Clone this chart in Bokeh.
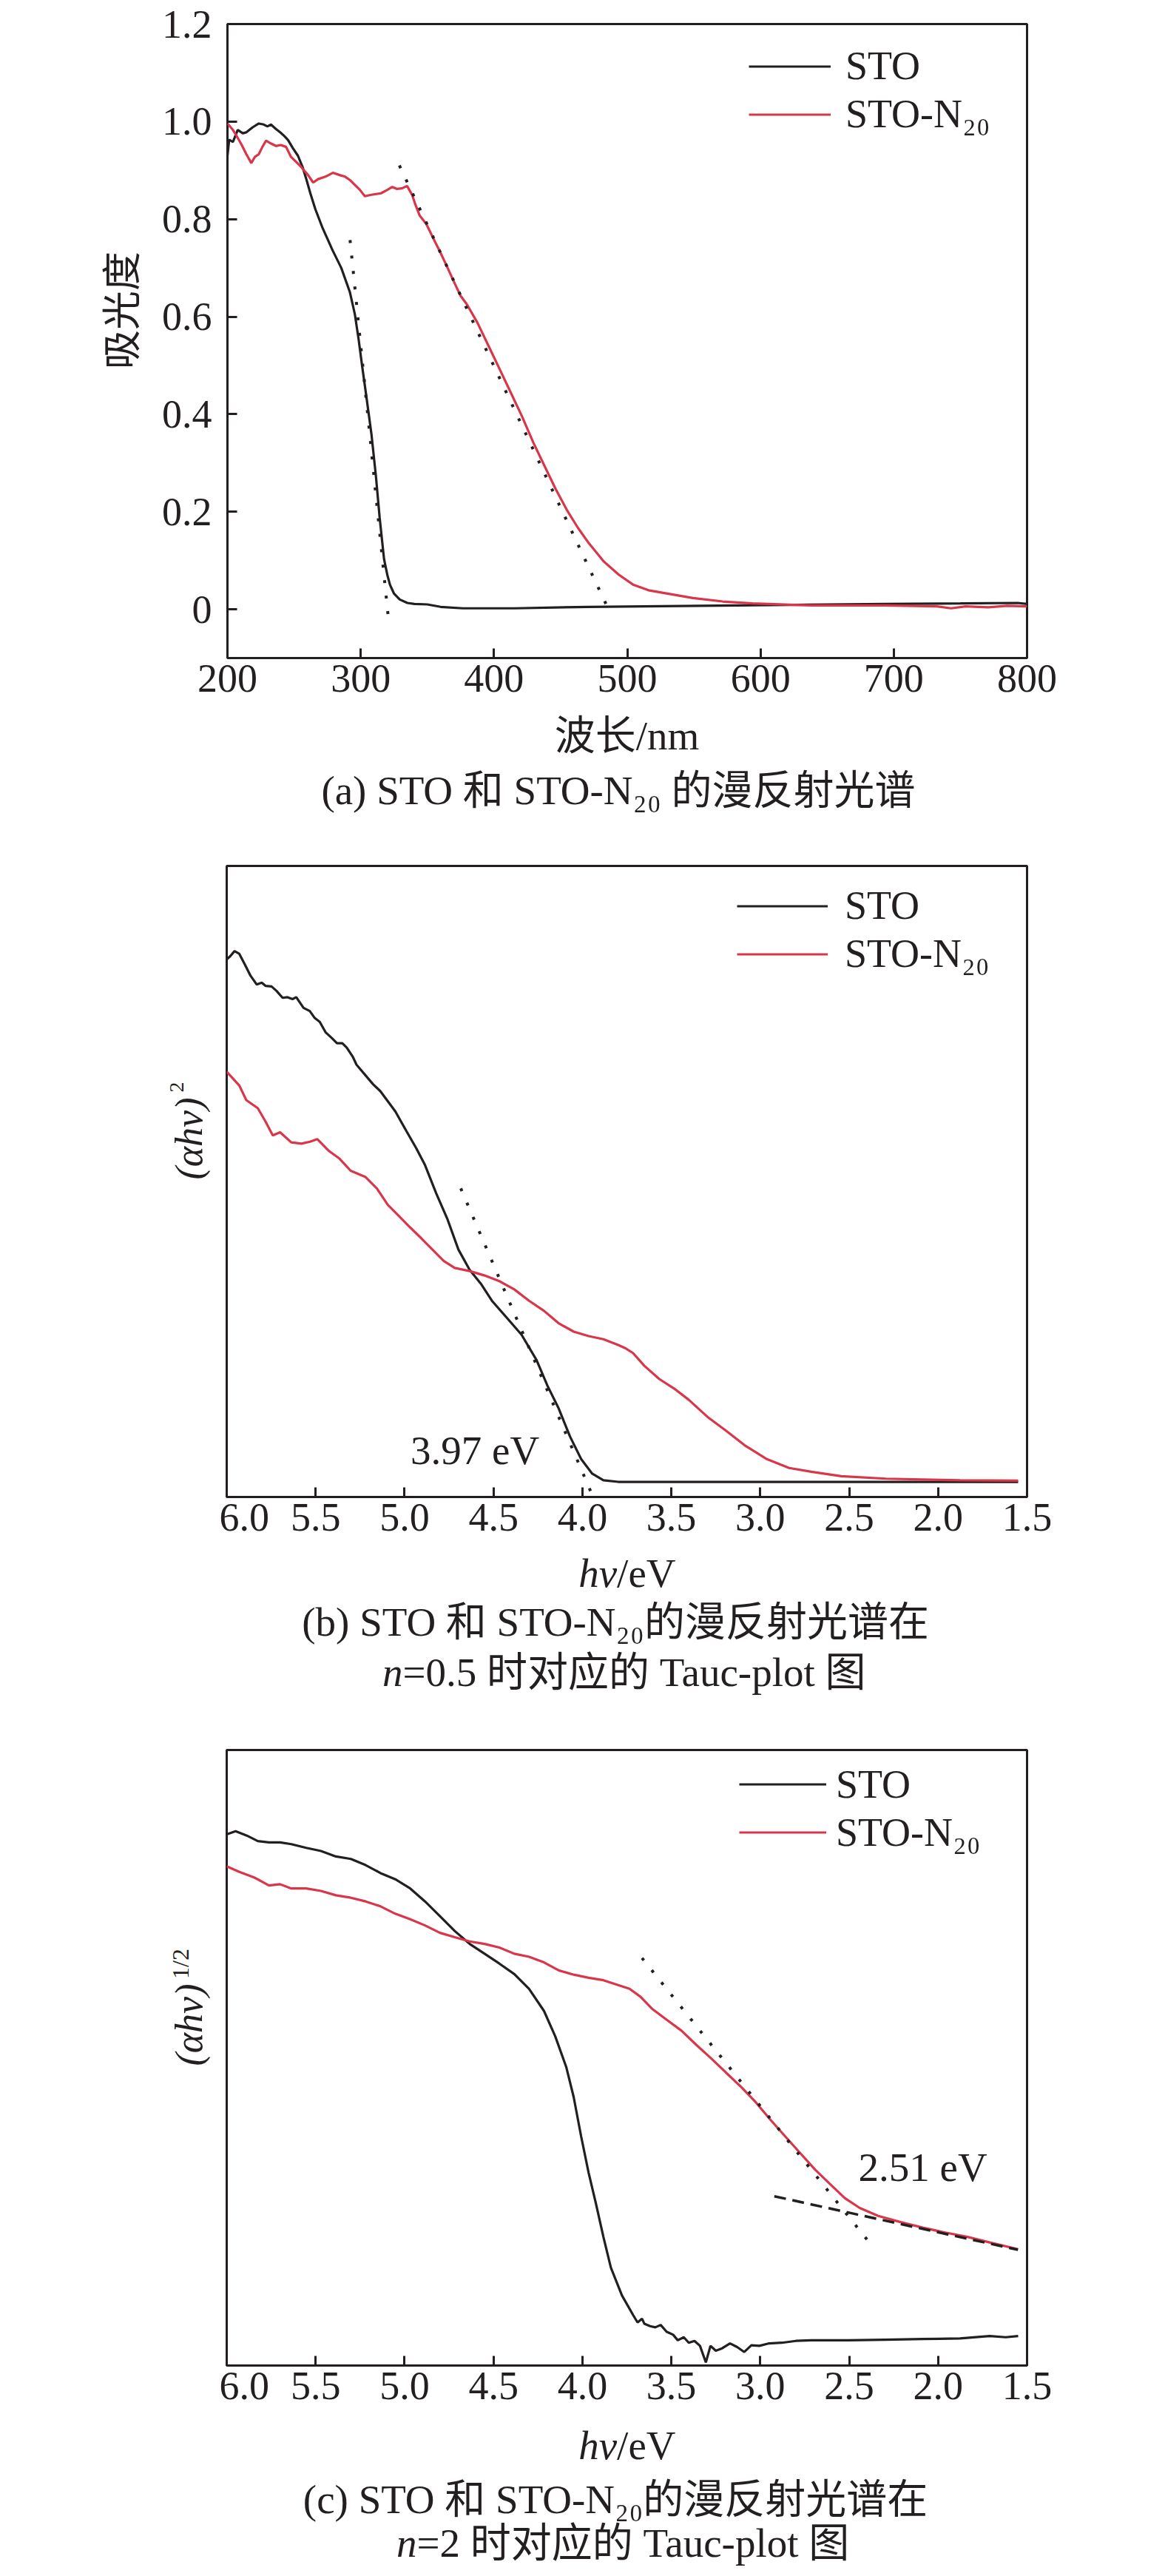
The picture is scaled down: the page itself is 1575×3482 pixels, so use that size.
import math
from bokeh.plotting import figure
from bokeh.layouts import column, row
from bokeh.models import (Range1d, FixedTicker, CustomJSTickFormatter, Label,
                          Legend, LegendItem)
from bokeh.embed import file_html
from bokeh.resources import INLINE

# ---------------- data ----------------
# (a) diffuse reflectance spectra: wavelength (nm) vs absorbance
WL_STO_A = [200, 201.3, 204.1, 207.7, 211.5, 214.2, 218.8, 223.5, 227.2, 230, 232.6, 236.3,
            240, 242.8, 245.5, 249.2, 252.9, 256.6, 259.4, 262.2, 266, 271.5, 278.9, 285.4,
            291.9, 295.6, 298.4, 301.1, 303.9, 308.1, 311.4, 314.2, 317.5, 320, 322, 325,
            329.3, 335, 340.3, 350, 359.9, 376.6, 415.6, 471, 582, 693, 750, 793, 800]
ABS_STO_A = [0.93, 0.963, 0.958, 0.983, 0.976, 0.978, 0.988, 0.996, 0.994, 0.99, 0.994, 0.985,
             0.977, 0.97, 0.962, 0.945, 0.93, 0.905, 0.88, 0.853, 0.82, 0.781, 0.736, 0.70,
             0.65, 0.605, 0.554, 0.498, 0.443, 0.358, 0.273, 0.188, 0.103, 0.07, 0.05, 0.032,
             0.02, 0.013, 0.011, 0.01, 0.005, 0.002, 0.002, 0.005, 0.008, 0.011, 0.012, 0.013, 0.011]

WL_N20_A = [200, 204.1, 206.8, 210.5, 214.2, 217.9, 220.7, 223.5, 226.2, 229, 232.7, 236.4,
            240, 244, 247.6, 251.3, 255, 260.6, 264.3, 268, 273.5, 279.1, 284.6, 288.3, 292,
            295.7, 299.4, 303.1, 308, 315.2, 320, 323.7, 327, 330.9, 334.8, 338.7, 341, 344.3,
            349.2, 354.4, 359.7, 364.7, 369.7, 374.9, 379.7, 387.7, 396.1, 404.5, 412.8, 421.1,
            429.5, 437.9, 446.2, 454.6, 463, 471.3, 482.4, 493.6, 504.7, 515.9, 532.6, 549.3,
            571.6, 594, 638, 693, 732, 743, 754, 771, 785, 800]
ABS_N20_A = [0.996, 0.983, 0.971, 0.953, 0.933, 0.915, 0.928, 0.933, 0.948, 0.961, 0.955, 0.95,
             0.952, 0.948, 0.928, 0.918, 0.908, 0.89, 0.875, 0.882, 0.887, 0.895, 0.89, 0.887, 0.88,
             0.87, 0.86, 0.847, 0.85, 0.853, 0.86, 0.866, 0.862, 0.863, 0.868, 0.849, 0.83, 0.807,
             0.79, 0.761, 0.732, 0.703, 0.673, 0.643, 0.625, 0.587, 0.539, 0.491, 0.443, 0.395,
             0.342, 0.294, 0.247, 0.204, 0.167, 0.135, 0.098, 0.071, 0.050, 0.039, 0.031, 0.023,
             0.016, 0.012, 0.008, 0.008, 0.006, 0.002, 0.006, 0.004, 0.007, 0.006]

TAN_STO_A_X = [292, 321]
TAN_STO_A_Y = [0.757, -0.025]
TAN_N20_A_X = [329, 488]
TAN_N20_A_Y = [0.91, -0.012]

X_TICKS_A = [200, 300, 400, 500, 600, 700, 800]
Y_TICKS_A = [0, 0.2, 0.4, 0.6, 0.8, 1.0, 1.2]

# (b) Tauc plot, n = 0.5 : hv (eV) vs (alpha hv)^2 (arb. units)
HV_STO_B = [6.0, 5.98, 5.956, 5.93, 5.90, 5.866, 5.831, 5.803, 5.782, 5.748, 5.72, 5.686, 5.658,
            5.63, 5.609, 5.568, 5.533, 5.505, 5.477, 5.443, 5.408, 5.38, 5.35, 5.325, 5.29, 5.27,
            5.177, 5.136, 5.052, 4.99, 4.935, 4.885, 4.822, 4.76, 4.697, 4.634, 4.571, 4.509,
            4.425, 4.342, 4.258, 4.196, 4.133, 4.07, 4.007, 3.945, 3.882, 3.799, 3.55, 3.0, 2.5,
            2.0, 1.55]
Y_STO_B = [0.852, 0.857, 0.865, 0.861, 0.845, 0.826, 0.812, 0.815, 0.810, 0.809, 0.802, 0.791,
           0.792, 0.789, 0.792, 0.775, 0.770, 0.759, 0.753, 0.736, 0.727, 0.719, 0.719, 0.712,
           0.697, 0.685, 0.654, 0.643, 0.611, 0.580, 0.553, 0.526, 0.481, 0.441, 0.392, 0.360,
           0.338, 0.311, 0.284, 0.257, 0.217, 0.176, 0.140, 0.096, 0.060, 0.037, 0.0265, 0.024,
           0.024, 0.024, 0.024, 0.024, 0.024]

HV_N20_B = [6.0, 5.929, 5.89, 5.825, 5.78, 5.741, 5.70, 5.637, 5.58, 5.532, 5.49, 5.428, 5.365,
            5.303, 5.219, 5.156, 5.094, 5.031, 4.968, 4.906, 4.843, 4.780, 4.718, 4.634, 4.55,
            4.467, 4.383, 4.30, 4.216, 4.132, 4.049, 3.965, 3.882, 3.799, 3.76, 3.715, 3.652,
            3.568, 3.485, 3.402, 3.297, 3.192, 3.088, 2.963, 2.838, 2.713, 2.545, 2.294, 1.877, 1.55]
Y_N20_B = [0.674, 0.652, 0.629, 0.616, 0.594, 0.573, 0.578, 0.562, 0.560, 0.563, 0.567, 0.549,
           0.536, 0.517, 0.507, 0.489, 0.463, 0.445, 0.427, 0.410, 0.392, 0.374, 0.363, 0.358,
           0.351, 0.342, 0.329, 0.311, 0.295, 0.275, 0.262, 0.255, 0.250, 0.241, 0.236, 0.228,
           0.208, 0.187, 0.172, 0.154, 0.127, 0.105, 0.082, 0.060, 0.046, 0.040, 0.033, 0.029,
           0.0265, 0.026]

TAN_B_X = [4.684, 3.94]
TAN_B_Y = [0.489, 0.0]
GAP_B = 3.97

# (c) Tauc plot, n = 2 : hv (eV) vs (alpha hv)^(1/2) (arb. units)
HV_STO_C = [6.0, 5.95, 5.887, 5.825, 5.762, 5.70, 5.637, 5.553, 5.47, 5.386, 5.302, 5.219, 5.135,
            5.052, 4.968, 4.885, 4.801, 4.718, 4.634, 4.55, 4.467, 4.383, 4.30, 4.216, 4.153,
            4.091, 4.049, 4.007, 3.965, 3.924, 3.882, 3.84, 3.778, 3.715, 3.69, 3.665, 3.652,
            3.62, 3.59, 3.56, 3.527, 3.49, 3.464, 3.43, 3.402, 3.37, 3.339, 3.306, 3.28, 3.25,
            3.214, 3.17, 3.13, 3.09, 3.05, 3.005, 2.95, 2.879, 2.8, 2.713, 2.6, 2.504, 2.3,
            2.085, 1.877, 1.71, 1.62, 1.55]
Y_STO_C = [0.863, 0.868, 0.861, 0.852, 0.850, 0.850, 0.847, 0.841, 0.836, 0.827, 0.823, 0.813,
           0.80, 0.790, 0.775, 0.754, 0.730, 0.706, 0.685, 0.669, 0.653, 0.636, 0.612, 0.576,
           0.535, 0.485, 0.436, 0.372, 0.313, 0.263, 0.209, 0.159, 0.114, 0.082, 0.070, 0.076,
           0.068, 0.064, 0.062, 0.066, 0.055, 0.050, 0.041, 0.046, 0.037, 0.040, 0.032, 0.005,
           0.032, 0.024, 0.028, 0.036, 0.030, 0.022, 0.033, 0.032, 0.036, 0.037, 0.040, 0.041,
           0.041, 0.041, 0.042, 0.043, 0.044, 0.048, 0.046, 0.048]

HV_N20_C = [6.0, 5.929, 5.846, 5.762, 5.70, 5.637, 5.553, 5.47, 5.386, 5.302, 5.219, 5.135,
            5.052, 4.968, 4.885, 4.801, 4.718, 4.634, 4.55, 4.467, 4.383, 4.30, 4.216, 4.133,
            4.049, 3.965, 3.882, 3.799, 3.735, 3.673, 3.61, 3.527, 3.443, 3.36, 3.276, 3.193,
            3.109, 3.026, 2.942, 2.859, 2.775, 2.691, 2.608, 2.525, 2.441, 2.337, 2.211, 2.086,
            1.96, 1.835, 1.71, 1.551]
Y_N20_C = [0.811, 0.802, 0.793, 0.780, 0.782, 0.775, 0.775, 0.771, 0.764, 0.760, 0.754, 0.746,
           0.734, 0.725, 0.715, 0.703, 0.696, 0.689, 0.685, 0.679, 0.669, 0.664, 0.655, 0.642,
           0.635, 0.630, 0.626, 0.618, 0.612, 0.599, 0.580, 0.562, 0.544, 0.521, 0.499, 0.476,
           0.453, 0.428, 0.399, 0.372, 0.345, 0.318, 0.295, 0.272, 0.256, 0.243, 0.233, 0.224,
           0.216, 0.209, 0.200, 0.189]

TAN_C_X = [3.665, 2.398]
TAN_C_Y = [0.662, 0.204]
BASE_C_X = [2.921, 1.551]
BASE_C_Y = [0.275, 0.188]
GAP_C = 2.51

X_TICKS_BC = [6.0, 5.5, 5.0, 4.5, 4.0, 3.5, 3.0, 2.5, 2.0, 1.5]

# ---------------- style ----------------
BLACK = "#231f20"
RED = "#d9364a"
SERIF = "Liberation Serif, Noto Sans CJK SC"
FS = "55px"
YT_FS = "52px"
TICK_FS = "54px"
LEG_FS = "54px"
W = 1559
RIGHT = 171
BOTTOM = 72
LW = 3.2


def plot_fig(width, height, left, top, x_range, y_range):
    p = figure(width=width, height=height, x_range=x_range, y_range=y_range,
               output_backend="svg", toolbar_location=None, title=None,
               min_border_left=left, min_border_right=RIGHT,
               min_border_top=top, min_border_bottom=BOTTOM)
    p.grid.visible = False
    p.outline_line_color = BLACK
    p.outline_line_width = 3
    p.background_fill_color = "white"
    p.border_fill_color = "white"
    for ax in (p.xaxis, p.yaxis):
        ax.axis_line_color = None
        ax.major_tick_in = 13
        ax.major_tick_out = 0
        ax.major_tick_line_width = 3
        ax.major_tick_line_color = BLACK
        ax.minor_tick_line_color = None
        ax.major_label_text_font = "Liberation Serif"
        ax.major_label_text_font_size = TICK_FS
        ax.major_label_text_color = BLACK
    p.xaxis.major_label_standoff = 9
    return p


def text_fig(width, height):
    p = figure(width=width, height=height, x_range=Range1d(0, 1), y_range=Range1d(0, 1),
               output_backend="svg", toolbar_location=None, title=None,
               x_axis_location=None, y_axis_location=None, min_border=0)
    p.xgrid.visible = False
    p.ygrid.visible = False
    p.grid.grid_line_color = None
    p.outline_line_color = None
    p.background_fill_color = "white"
    p.border_fill_color = "white"
    return p


def lbl(p, text, x, y, size=FS, font=SERIF, align="center", style="normal", angle=0.0):
    p.add_layout(Label(x=x, y=y, x_units="screen", y_units="screen", text=text,
                       text_font=font, text_font_size=size, text_color=BLACK,
                       text_align=align, text_baseline="middle",
                       text_font_style=style, angle=angle))


def legend(p, r1, r2, x, y, gw, standoff):
    leg = Legend(items=[LegendItem(label="STO", renderers=[r1]),
                        LegendItem(label="STO-N₂₀", renderers=[r2])],
                 location=(x, y), border_line_color=None, background_fill_alpha=0,
                 padding=0, margin=0, spacing=0, glyph_width=gw, glyph_height=65,
                 label_height=65, label_standoff=standoff,
                 label_text_font="Liberation Serif", label_text_font_size=LEG_FS,
                 label_text_color=BLACK)
    p.add_layout(leg)


# ---------------- (a) ----------------
HA = 32 + 857 + BOTTOM
YA_W = 215
pa = plot_fig(W - YA_W, HA, 306 - YA_W, 32, Range1d(200, 800), Range1d(-0.1, 1.2))
pa.xaxis.ticker = FixedTicker(ticks=X_TICKS_A)
pa.yaxis.ticker = FixedTicker(ticks=Y_TICKS_A)
pa.yaxis.formatter = CustomJSTickFormatter(code="return tick == 0 ? '0' : tick.toFixed(1);")
pa.yaxis.major_label_standoff = 21
ra1 = pa.line(WL_STO_A, ABS_STO_A, line_color=BLACK, line_width=LW)
ra2 = pa.line(WL_N20_A, ABS_N20_A, line_color=RED, line_width=LW)
pa.line(TAN_STO_A_X, TAN_STO_A_Y, line_color=BLACK, line_width=4, line_dash="4 17")
pa.line(TAN_N20_A_X, TAN_N20_A_Y, line_color=BLACK, line_width=4, line_dash="4 17")
legend(pa, ra1, ra2, 705, 702.5, 111, 20)

ya = text_fig(YA_W, HA)
lbl(ya, "吸光度", 165, 470, size="53px", angle=math.pi / 2)

ca = text_fig(W, 151)
lbl(ca, "波长/nm", 847, 118)
lbl(ca, "(a) STO 和 STO-N₂₀ 的漫反射光谱", 835.5, 44)

# ---------------- (b) ----------------
HB = 58 + 853 + BOTTOM
pb = plot_fig(W - 296, HB, 10, 58, Range1d(6.0, 1.5), Range1d(0, 1))
pb.yaxis.visible = False
pb.xaxis.ticker = FixedTicker(ticks=X_TICKS_BC)
pb.xaxis.formatter = CustomJSTickFormatter(code="return tick.toFixed(1);")
rb1 = pb.line(HV_STO_B, Y_STO_B, line_color=BLACK, line_width=LW)
rb2 = pb.line(HV_N20_B, Y_N20_B, line_color=RED, line_width=LW)
pb.line(TAN_B_X, TAN_B_Y, line_color=BLACK, line_width=4, line_dash="4 17")
legend(pb, rb1, rb2, 690, 701.5, 123, 23)
pb.add_layout(Label(x=4.604, y=0.074, text=f"{GAP_B:.2f} eV", text_font="Liberation Serif",
                    text_font_size=FS, text_color=BLACK, text_align="center",
                    text_baseline="middle"))

yb = text_fig(296, HB)
lbl(yb, "(αhv)", 255, 484.5, size=YT_FS, style="italic", angle=math.pi / 2)
lbl(yb, "2", 238, 554, size="28px", angle=math.pi / 2)

cb = text_fig(W, 217)
lbl(cb, "hv", 833.6, 186, align="right", style="italic")
lbl(cb, "/eV", 833.6, 186, align="left")
lbl(cb, "(b) STO 和 STO-N₂₀的漫反射光谱在", 831.6, 120)
lbl(cb, "n", 544, 52, align="right", style="italic")
lbl(cb, "=0.5 时对应的 Tauc-plot 图", 544, 52, align="left")

# ---------------- (c) ----------------
HC = 53 + 832 + BOTTOM
pc = plot_fig(W - 296, HC, 10, 53, Range1d(6.0, 1.5), Range1d(0, 1))
pc.yaxis.visible = False
pc.xaxis.ticker = FixedTicker(ticks=X_TICKS_BC)
pc.xaxis.formatter = CustomJSTickFormatter(code="return tick.toFixed(1);")
rc1 = pc.line(HV_STO_C, Y_STO_C, line_color=BLACK, line_width=LW)
rc2 = pc.line(HV_N20_C, Y_N20_C, line_color=RED, line_width=LW)
pc.line(TAN_C_X, TAN_C_Y, line_color=BLACK, line_width=4, line_dash="4 17")
pc.line(BASE_C_X, BASE_C_Y, line_color=BLACK, line_width=3.5, line_dash="16 9")
legend(pc, rc1, rc2, 693, 688, 118, 13)
pc.add_layout(Label(x=2.086, y=0.322, text=f"{GAP_C:.2f} eV", text_font="Liberation Serif",
                    text_font_size=FS, text_color=BLACK, text_align="center",
                    text_baseline="middle"))

yc = text_fig(296, HC)
lbl(yc, "(αhv)", 255, 460.5, size=YT_FS, style="italic", angle=math.pi / 2)
lbl(yc, "1/2", 243, 543, size="32px", angle=math.pi / 2)

cc = text_fig(W, 203)
lbl(cc, "hv", 833.6, 167, align="right", style="italic")
lbl(cc, "/eV", 833.6, 167, align="left")
lbl(cc, "(c) STO 和 STO-N₂₀的漫反射光谱在", 831.6, 94)
lbl(cc, "n", 563, 35, align="right", style="italic")
lbl(cc, "=2 时对应的 Tauc-plot 图", 563, 35, align="left")

layout = column(row(ya, pa, spacing=0), ca,
                row(yb, pb, spacing=0), cb,
                row(yc, pc, spacing=0), cc, spacing=0)
open("out.html", "w").write(file_html(layout, INLINE))
